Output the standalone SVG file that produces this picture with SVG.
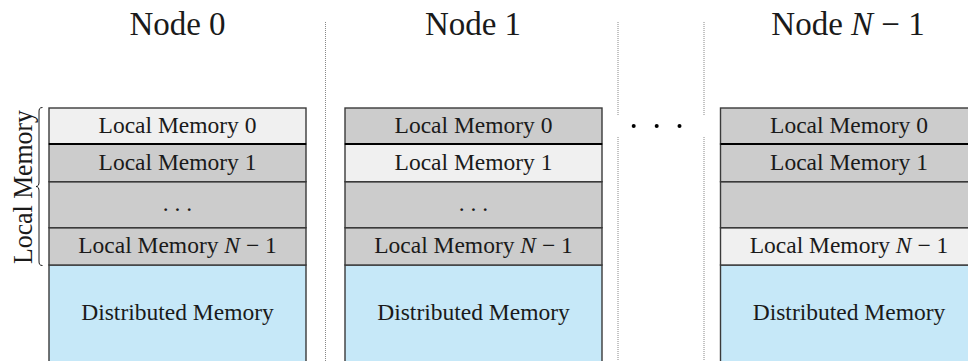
<svg xmlns="http://www.w3.org/2000/svg" width="968" height="361" viewBox="0 0 968 361">
<style>
text{font-family:"Liberation Serif","DejaVu Serif",serif;fill:#1a1a1a}
.title{font-size:33px;text-anchor:middle}
.lbl{font-size:23.5px;text-anchor:middle}
.light{fill:#f0f0f0;stroke:#3a3a3a;stroke-width:1.4}
.dark{fill:#cccccc;stroke:#3a3a3a;stroke-width:1.4}
.dist{fill:#c6e8f8;stroke:#3a3a3a;stroke-width:1.4}
.thick{stroke:#000;stroke-width:2.2}
.sep{stroke:#888;stroke-width:1;stroke-dasharray:1 1;fill:none}
.it{font-style:italic}
</style>
<g id="separators">
<line class="sep" x1="325.5" y1="22" x2="325.5" y2="361"/>
<line class="sep" x1="618" y1="22" x2="618" y2="115"/>
<line class="sep" x1="618" y1="137" x2="618" y2="361"/>
<line class="sep" x1="704" y1="22" x2="704" y2="115"/>
<line class="sep" x1="704" y1="137" x2="704" y2="361"/>
</g>
<g id="ellipsis" fill="#000">
<circle cx="633.7" cy="126" r="2"/>
<circle cx="656.7" cy="126" r="2"/>
<circle cx="679.5" cy="126" r="2"/>
</g>
<g id="brace">
<path d="M42.5,107.5 C39.5,107.5 39,109 39,112 L39,182 C39,185 38,186.5 36,186.5 C38,186.5 39,188 39,191 L39,261 C39,264 39.5,265.5 42.5,265.5" fill="none" stroke="#1a1a1a" stroke-width="1"/>
<text transform="translate(32,187) rotate(-90)" font-size="27" text-anchor="middle" textLength="154" lengthAdjust="spacingAndGlyphs">Local Memory</text>
</g>
<g id="node0">
<text class="title" x="177.5" y="35">Node 0</text>
<rect class="dist" x="49" y="265" width="257" height="110"/>
<rect class="dark" x="49" y="227.7" width="257" height="37.3"/>
<rect class="dark" x="49" y="181.7" width="257" height="46"/>
<rect class="dark" x="49" y="144" width="257" height="37.7"/>
<rect class="light" x="49" y="108" width="257" height="36"/>
<line class="thick" x1="49" y1="144" x2="306" y2="144"/>
<text class="lbl" x="177.5" y="132.5">Local Memory 0</text>
<text class="lbl" x="177.5" y="170">Local Memory 1</text>
<text class="lbl" x="177.5" y="211">. . .</text>
<text class="lbl" x="177.5" y="253">Local Memory <tspan class="it">N</tspan> − 1</text>
<text class="lbl" x="177.5" y="320">Distributed Memory</text>
</g>
<g id="node1">
<text class="title" x="473" y="35">Node 1</text>
<rect class="dist" x="345" y="265" width="257" height="110"/>
<rect class="dark" x="345" y="227.7" width="257" height="37.3"/>
<rect class="dark" x="345" y="181.7" width="257" height="46"/>
<rect class="light" x="345" y="144" width="257" height="37.7"/>
<rect class="dark" x="345" y="108" width="257" height="36"/>
<line class="thick" x1="345" y1="144" x2="602" y2="144"/>
<text class="lbl" x="473.5" y="132.5">Local Memory 0</text>
<text class="lbl" x="473.5" y="170">Local Memory 1</text>
<text class="lbl" x="473.5" y="211">. . .</text>
<text class="lbl" x="473.5" y="253">Local Memory <tspan class="it">N</tspan> − 1</text>
<text class="lbl" x="473.5" y="320">Distributed Memory</text>
</g>
<g id="nodeN1">
<text class="title" x="848" y="35">Node <tspan class="it">N</tspan> − 1</text>
<rect class="dist" x="720.5" y="265" width="257" height="110"/>
<rect class="light" x="720.5" y="227.7" width="257" height="37.3"/>
<rect class="dark" x="720.5" y="181.7" width="257" height="46"/>
<rect class="dark" x="720.5" y="144" width="257" height="37.7"/>
<rect class="dark" x="720.5" y="108" width="257" height="36"/>
<line class="thick" x1="720.5" y1="144" x2="977.5" y2="144"/>
<text class="lbl" x="849" y="132.5">Local Memory 0</text>
<text class="lbl" x="849" y="170">Local Memory 1</text>
<text class="lbl" x="849" y="253">Local Memory <tspan class="it">N</tspan> − 1</text>
<text class="lbl" x="849" y="320">Distributed Memory</text>
</g>
</svg>
